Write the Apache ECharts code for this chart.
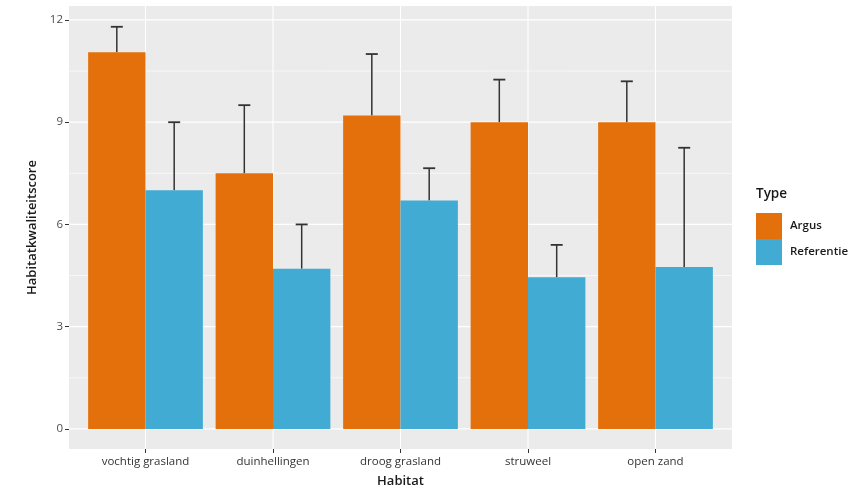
<!DOCTYPE html>
<html>
<head>
<meta charset="utf-8">
<script src="https://cdn.jsdelivr.net/npm/echarts@6/dist/echarts.min.js"></script>
<style>
  html, body { margin: 0; padding: 0; background: #fff; }
  #chart { width: 868px; height: 495px; }
</style>
</head>
<body>
<div id="chart"></div>
<script>
const categories = ['vochtig grasland', 'duinhellingen', 'droog grasland', 'struweel', 'open zand'];
const argus = [11.05, 7.5, 9.2, 9.0, 9.0];
const argusUpper = [11.8, 9.5, 11.0, 10.25, 10.2];
const referentie = [7.0, 4.7, 6.7, 4.45, 4.75];
const referentieUpper = [9.0, 6.0, 7.65, 5.4, 8.25];
const yTicks = [0, 3, 6, 9, 12];
const yMinorTicks = [1.5, 4.5, 7.5, 10.5];
const typeNames = ['Argus', 'Referentie'];
const colors = ['#E3700B', '#42ABD3'];

const FONT = 'Open Sans';

function barRender(side) {
  return function (params, api) {
    const idx = api.value(0);
    const val = api.value(1);
    const up = api.value(2);
    const catW = api.size([1, 0])[0];
    const barW = 0.45 * catW;
    const base = api.coord([idx, 0]);
    const top = api.coord([idx, val]);
    const upper = api.coord([idx, up]);
    const cx = base[0] + side * 0.225 * catW;
    const capHalf = 6;
    return {
      type: 'group',
      children: [
        {
          type: 'line',
          shape: { x1: cx, y1: top[1], x2: cx, y2: upper[1] },
          style: { stroke: '#333333', lineWidth: 1.5 },
          z2: 5
        },
        {
          type: 'line',
          shape: { x1: cx - capHalf, y1: upper[1], x2: cx + capHalf, y2: upper[1] },
          style: { stroke: '#333333', lineWidth: 1.8 },
          z2: 5
        },
        {
          type: 'rect',
          shape: { x: cx - barW / 2, y: top[1], width: barW, height: base[1] - top[1] },
          style: { fill: api.visual('color') },
          z2: 10
        }
      ]
    };
  };
}

function hLineRender(width) {
  return function (params, api) {
    const cs = params.coordSys;
    const p = api.coord([0, api.value(1)]);
    return {
      type: 'line',
      shape: { x1: cs.x, y1: p[1], x2: cs.x + cs.width, y2: p[1] },
      style: { stroke: '#FFFFFF', lineWidth: width }
    };
  };
}

function vLineRender(params, api) {
  const cs = params.coordSys;
  const p = api.coord([api.value(0), 0]);
  return {
    type: 'line',
    shape: { x1: p[0], y1: cs.y, x2: p[0], y2: cs.y + cs.height },
    style: { stroke: '#FFFFFF', lineWidth: 1.1 }
  };
}

const catIdx = categories.map((c, i) => i);

const chart = echarts.init(document.getElementById('chart'), null, { renderer: 'canvas' });
chart.setOption({
  animation: false,
  backgroundColor: '#ffffff',
  textStyle: { fontFamily: FONT },
  grid: {
    left: 69, right: 136, top: 6, bottom: 46,
    show: true, backgroundColor: '#EBEBEB', borderWidth: 0
  },
  xAxis: {
    type: 'value',
    min: -0.6, max: 4.6,
    position: 'bottom',
    name: 'Habitat',
    nameLocation: 'middle',
    nameGap: 26,
    nameTextStyle: { fontFamily: FONT, fontSize: 13, color: '#1a1a1a', fontWeight: 600 },
    axisLine: { show: false, onZero: false },
    splitLine: { show: false },
    axisTick: { show: true, length: 4, customValues: catIdx, lineStyle: { color: '#333333', width: 1 } },
    axisLabel: {
      customValues: catIdx,
      margin: 7,
      fontFamily: FONT, fontSize: 11.5, color: '#333333',
      formatter: v => categories[Math.round(v)]
    }
  },
  yAxis: {
    type: 'value',
    min: -0.59, max: 12.41,
    position: 'left',
    name: 'Habitatkwaliteitscore',
    nameLocation: 'middle',
    nameGap: 27,
    nameTextStyle: { fontFamily: FONT, fontSize: 13, color: '#1a1a1a', fontWeight: 600 },
    axisLine: { show: false, onZero: false },
    splitLine: { show: false },
    axisTick: { show: true, length: 4, customValues: yTicks, lineStyle: { color: '#333333', width: 1 } },
    axisLabel: {
      customValues: yTicks,
      margin: 6,
      fontFamily: FONT, fontSize: 11.5, color: '#4D4D4D'
    }
  },
  legend: {
    data: typeNames,
    orient: 'vertical',
    left: 756, top: 213,
    itemWidth: 26, itemHeight: 26, itemGap: 0,
    padding: 0,
    icon: 'rect',
    selectedMode: false,
    textStyle: { fontFamily: FONT, fontSize: 11.5, color: '#1a1a1a', fontWeight: 600, padding: [0, 0, 0, 3] }
  },
  graphic: [
    {
      type: 'text', left: 756, top: 187,
      style: { text: 'Type', fontFamily: FONT, fontSize: 13.5, fontWeight: 600, fill: '#1a1a1a' }
    }
  ],
  series: [
    {
      type: 'custom', name: 'minor', silent: true, z: 1,
      renderItem: hLineRender(0.6),
      data: yMinorTicks.map(v => [0, v])
    },
    {
      type: 'custom', name: 'major', silent: true, z: 1,
      renderItem: hLineRender(1.2),
      data: yTicks.map(v => [0, v])
    },
    {
      type: 'custom', name: 'vmajor', silent: true, z: 1,
      renderItem: vLineRender,
      data: catIdx.map(i => [i, 0])
    },
    {
      type: 'custom', name: typeNames[0], z: 3,
      itemStyle: { color: colors[0] },
      renderItem: barRender(-1),
      encode: { x: 0, y: [1, 2] },
      data: catIdx.map(i => [i, argus[i], argusUpper[i]])
    },
    {
      type: 'custom', name: typeNames[1], z: 3,
      itemStyle: { color: colors[1] },
      renderItem: barRender(1),
      encode: { x: 0, y: [1, 2] },
      data: catIdx.map(i => [i, referentie[i], referentieUpper[i]])
    }
  ]
});
</script>
</body>
</html>
